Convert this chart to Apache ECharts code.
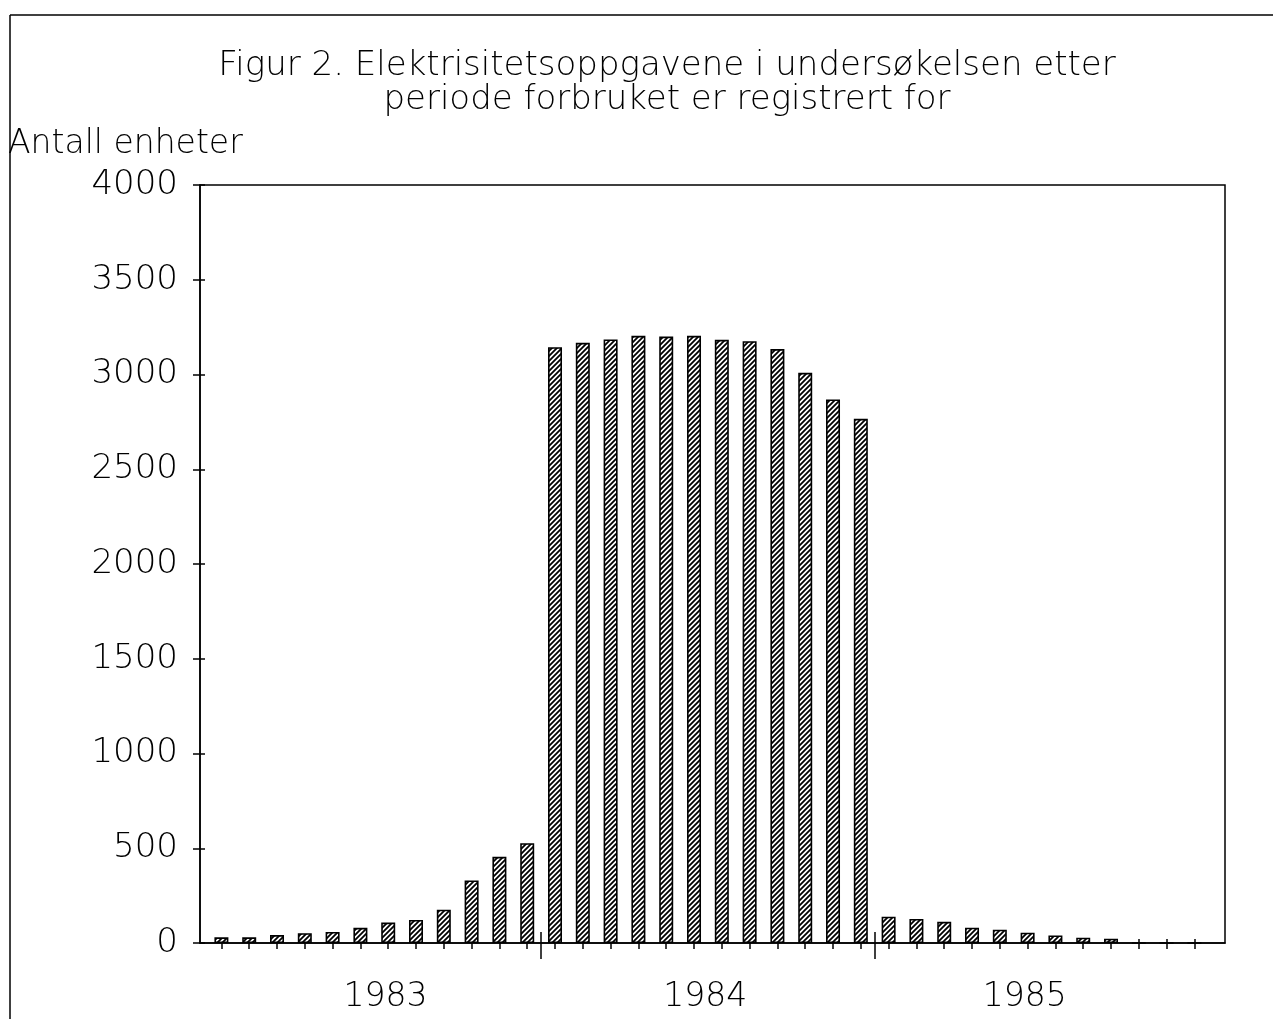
<!DOCTYPE html>
<html>
<head>
<meta charset="utf-8">
<script src="https://cdn.jsdelivr.net/npm/echarts@6/dist/echarts.min.js"></script>
<style>html,body{margin:0;padding:0;background:#fff}#c{width:1273px;height:1019px}</style>
</head>
<body>
<div id="c"></div>
<script>
// ---- data ----
const titleLines = ['Figur 2. Elektrisitetsoppgavene i undersøkelsen etter', 'periode forbruket er registrert for'];
const yAxisName = 'Antall enheter';
const years = ['1983', '1984', '1985'];
const months = Array.from({length: 36}, (_, i) => years[Math.floor(i / 12)] + '-' + String(i % 12 + 1).padStart(2, '0'));
const values = [
  30, 30, 42, 52, 58, 80, 108, 122, 176, 330, 455, 527,
  3144, 3167, 3185, 3204, 3200, 3204, 3183, 3176, 3134, 3009, 2868, 2766,
  139, 127, 112, 81, 70, 54, 40, 28, 23, 0, 0, 0
];
const yTicks = [0, 500, 1000, 1500, 2000, 2500, 3000, 3500, 4000];

// ---- hatch pattern ----
function hatch() {
  const c = document.createElement('canvas');
  c.width = 5; c.height = 5;
  const g = c.getContext('2d');
  g.fillStyle = '#fff'; g.fillRect(0, 0, 5, 5);
  g.strokeStyle = '#000'; g.lineWidth = 1.8;
  g.beginPath();
  g.moveTo(-1, 6); g.lineTo(6, -1);
  g.moveTo(-3, 3); g.lineTo(3, -3);
  g.moveTo(2, 8); g.lineTo(8, 2);
  g.stroke();
  return c;
}

const FONT = 'DejaVu Sans';
const xMin = -0.77, xMax = 36.1;
const barCenters = months.map((_, i) => i);
const separators = [11.5, 23.5];
const yearLabelAt = [5.9, 17.4, 28.9];

const chart = echarts.init(document.getElementById('c'), null, {renderer: 'canvas'});
const baseX = {
  type: 'value', min: xMin, max: xMax, position: 'bottom', gridIndex: 0,
  splitLine: {show: false}, axisLabel: {show: false}, axisLine: {show: false}
};
const tickStyle = {color: '#000', width: 1.5};
chart.setOption({
  animation: false,
  backgroundColor: '#fff',
  title: {
    text: titleLines.join('\n'), left: 662, top: 44, textAlign: 'center',
    textStyle: {fontFamily: FONT, fontSize: 34, fontWeight: 200, color: '#000', lineHeight: 34}
  },
  grid: {left: 200, top: 185, width: 1025, height: 758, show: true, borderColor: '#000', borderWidth: 1.5, backgroundColor: 'transparent'},
  xAxis: [
    Object.assign({}, baseX, {
      axisLine: {show: true, onZero: false, lineStyle: tickStyle},
      axisTick: {show: true, customValues: barCenters, length: 6, lineStyle: tickStyle},
      axisLabel: {show: true, customValues: yearLabelAt, margin: 38,
        formatter: v => years[yearLabelAt.indexOf(v)] || '',
        fontFamily: FONT, fontSize: 33, fontWeight: 200, color: '#000'}
    }),
    Object.assign({}, baseX, {
      axisTick: {show: true, inside: true, customValues: barCenters, length: 4, lineStyle: tickStyle}
    }),
    Object.assign({}, baseX, {
      axisTick: {show: true, customValues: separators, length: 16, lineStyle: tickStyle}
    }),
    Object.assign({}, baseX, {
      axisTick: {show: true, inside: true, customValues: separators, length: 11, lineStyle: tickStyle}
    })
  ],
  yAxis: [{
    type: 'value', min: 0, max: 4000, interval: 500,
    name: yAxisName, nameLocation: 'end', nameGap: 0,
    nameTextStyle: {fontFamily: FONT, fontSize: 33, fontWeight: 200, color: '#000', align: 'left', padding: [0, 0, 24, -192]},
    axisLine: {show: true, onZero: false, lineStyle: tickStyle},
    axisTick: {show: true, length: 7, lineStyle: tickStyle},
    axisLabel: {margin: 22, fontFamily: FONT, fontSize: 34, fontWeight: 200, color: '#000', formatter: v => String(v)},
    splitLine: {show: false}
  }, {
    type: 'value', min: 0, max: 4000, interval: 500, position: 'left',
    axisLine: {show: false, onZero: false},
    axisTick: {show: true, inside: true, length: 5, lineStyle: tickStyle},
    axisLabel: {show: false}, splitLine: {show: false}
  }],
  graphic: [
    {type: 'line', shape: {x1: 10, y1: 15, x2: 1273, y2: 15}, style: {stroke: '#000', lineWidth: 1.5}},
    {type: 'line', shape: {x1: 10, y1: 15, x2: 10, y2: 1019}, style: {stroke: '#000', lineWidth: 1.5}}
  ],
  series: [{
    type: 'bar', xAxisIndex: 0, yAxisIndex: 0, barWidth: 14,
    data: values.map((v, i) => [barCenters[i], v]),
    itemStyle: {color: {image: hatch(), repeat: 'repeat'}, borderColor: '#000', borderWidth: 1.6},
    z: 3
  }]
});
</script>
</body>
</html>
